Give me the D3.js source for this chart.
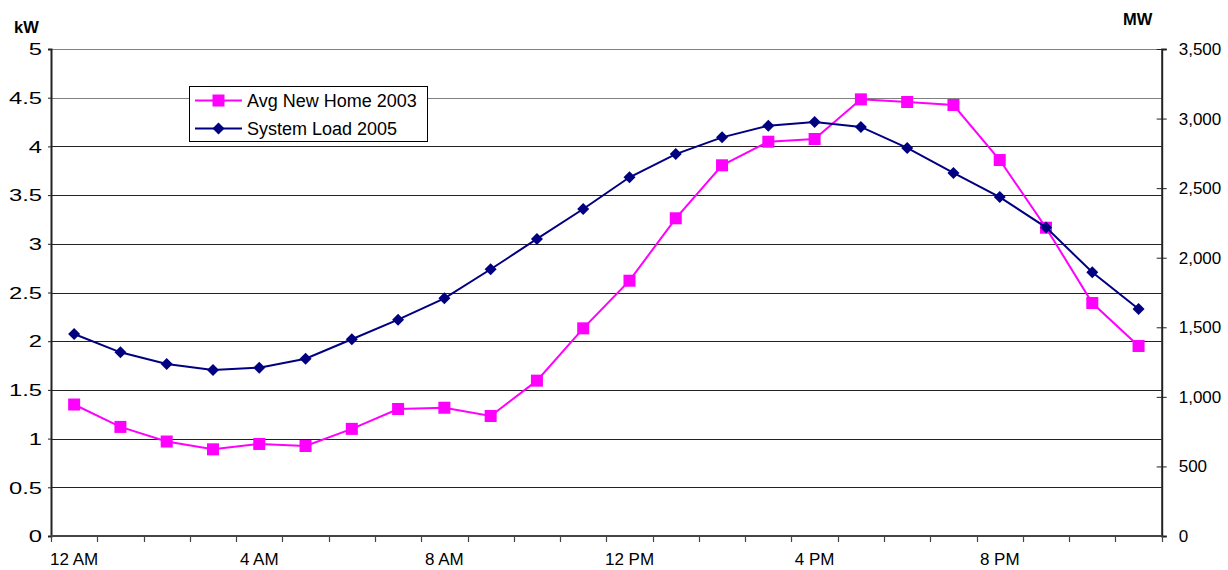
<!DOCTYPE html>
<html>
<head>
<meta charset="utf-8">
<script src="https://cdn.jsdelivr.net/npm/d3@7"></script>
<style>
  html, body { margin: 0; padding: 0; background: #fff; }
  svg { display: block; font-family: "Liberation Sans", Arial, sans-serif; }
</style>
</head>
<body>
<svg id="chart" width="1228" height="570"></svg>
<script>
// ---- data ----
const categories = ["12 AM","1 AM","2 AM","3 AM","4 AM","5 AM","6 AM","7 AM","8 AM","9 AM","10 AM","11 AM",
                    "12 PM","1 PM","2 PM","3 PM","4 PM","5 PM","6 PM","7 PM","8 PM","9 PM","10 PM","11 PM"];
const xTickLabels = ["12 AM","4 AM","8 AM","12 PM","4 PM","8 PM"];
const homeKW = [1.35, 1.12, 0.97, 0.89, 0.945, 0.924, 1.10, 1.304, 1.317, 1.232, 1.595, 2.132,
                2.621, 3.262, 3.806, 4.048, 4.076, 4.483, 4.456, 4.425, 3.86, 3.165, 2.392, 1.951];
const systemMW = [1452, 1320, 1236, 1193, 1210, 1274, 1414, 1555, 1708, 1917, 2135, 2350,
                  2578, 2745, 2865, 2949, 2975, 2940, 2789, 2609, 2436, 2218, 1895, 1631];
const leftTicks = [0, 0.5, 1, 1.5, 2, 2.5, 3, 3.5, 4, 4.5, 5];
const rightTicks = [0, 500, 1000, 1500, 2000, 2500, 3000, 3500];
const seriesNames = ["Avg New Home 2003", "System Load 2005"];
const colors = ["#FF00FF", "#000080"];

// ---- layout ----
const L = 51, R = 1161.7, T = 49, B = 536;
const svg = d3.select("#chart");

const x = d3.scaleBand().domain(categories).range([L, R]).padding(0);
const yL = d3.scaleLinear().domain([0, 5]).range([B, T]);
const yR = d3.scaleLinear().domain([0, 3500]).range([B, T]);
const cx = d => x(d) + x.bandwidth() / 2;

// gridlines
svg.append("g").selectAll("line").data(leftTicks.filter(v => v > 0)).join("line")
  .attr("x1", L).attr("x2", R)
  .attr("y1", d => Math.round(yL(d)) + 0.5).attr("y2", d => Math.round(yL(d)) + 0.5)
  .attr("stroke", (d) => d >= 4.5 ? "#808080" : "#222").attr("stroke-width", 1.2);

// left axis
const gL = svg.append("g").attr("transform", `translate(${L},0)`)
  .call(d3.axisLeft(yL).tickValues(leftTicks).tickSize(3).tickFormat(d3.format("")));
gL.select(".domain").attr("stroke", "#222").attr("stroke-width", 2);
gL.selectAll(".tick line").attr("stroke", "#222");
gL.selectAll(".tick text")
  .attr("x", 0).attr("dy", "0.34em")
  .attr("transform", "translate(-9,0) scale(1.4,1)")
  .attr("font-size", 17).attr("fill", "#000").attr("text-anchor", "end")
  .style("font-family", "'Liberation Sans', Arial, sans-serif");

// right axis
const gR = svg.append("g").attr("transform", `translate(${R},0)`)
  .call(d3.axisRight(yR).tickValues(rightTicks).tickSize(5).tickPadding(12).tickFormat(d3.format(",")));
gR.select(".domain").attr("stroke", "#222").attr("stroke-width", 2);
gR.selectAll(".tick line").attr("x1", -5).attr("x2", 5).attr("stroke", "#222");
gR.selectAll(".tick text").attr("font-size", 17).attr("fill", "#000")
  .style("font-family", "'Liberation Sans', Arial, sans-serif");

// bottom axis
const gB = svg.append("g").attr("transform", `translate(0,${B})`)
  .call(d3.axisBottom(x).tickValues(xTickLabels).tickSize(0).tickPadding(17));
gB.select(".domain").remove();
gB.selectAll(".tick text").attr("font-size", 17).attr("fill", "#000")
  .style("font-family", "'Liberation Sans', Arial, sans-serif");
svg.append("line").attr("x1", L).attr("x2", R).attr("y1", B).attr("y2", B)
  .attr("stroke", "#444").attr("stroke-width", 2);
const edges = categories.map(c => x(c)).concat([x.range()[1]]);
svg.append("g").selectAll("line").data(edges).join("line")
  .attr("x1", d => Math.round(d) + 0.5).attr("x2", d => Math.round(d) + 0.5)
  .attr("y1", B).attr("y2", B + 6)
  .attr("stroke", "#444").attr("stroke-width", 1.2);

// axis titles
svg.append("text").attr("x", 14).attr("y", 33).text("kW")
  .attr("font-size", 16.5).attr("font-weight", "bold");
svg.append("text").attr("x", 1123).attr("y", 25).text("MW")
  .attr("font-size", 16.5).attr("font-weight", "bold");

// series
const lineHome = d3.line().x((d, i) => cx(categories[i])).y(d => yL(d));
const lineSys = d3.line().x((d, i) => cx(categories[i])).y(d => yR(d));

svg.append("path").datum(homeKW).attr("d", lineHome)
  .attr("fill", "none").attr("stroke", colors[0]).attr("stroke-width", 2);
svg.append("g").selectAll("rect").data(homeKW).join("rect")
  .attr("x", (d, i) => cx(categories[i]) - 6).attr("y", d => yL(d) - 6)
  .attr("width", 12).attr("height", 12).attr("fill", colors[0]);

svg.append("path").datum(systemMW).attr("d", lineSys)
  .attr("fill", "none").attr("stroke", colors[1]).attr("stroke-width", 2);
const diamond = d3.symbol().type(d3.symbolSquare).size(72);
svg.append("g").selectAll("path").data(systemMW).join("path")
  .attr("d", diamond)
  .attr("transform", (d, i) => `translate(${cx(categories[i])},${yR(d)}) rotate(45)`)
  .attr("fill", colors[1]);

// legend
const lg = svg.append("g");
lg.append("rect").attr("x", 189.5).attr("y", 86.5).attr("width", 238).attr("height", 55)
  .attr("fill", "#fff").attr("stroke", "#000").attr("stroke-width", 1);
seriesNames.forEach((name, i) => {
  const yy = i === 0 ? 100.5 : 128.5;
  lg.append("line").attr("x1", 195).attr("x2", 242).attr("y1", yy).attr("y2", yy)
    .attr("stroke", colors[i]).attr("stroke-width", 2);
  if (i === 0) {
    lg.append("rect").attr("x", 212.5).attr("y", yy - 6).attr("width", 12).attr("height", 12).attr("fill", colors[i]);
  } else {
    lg.append("path").attr("d", diamond).attr("transform", `translate(218.5,${yy}) rotate(45)`).attr("fill", colors[i]);
  }
  lg.append("text").attr("x", 247).attr("y", yy).attr("dy", "0.36em")
    .attr("font-size", 18).text(name);
});
</script>
</body>
</html>
